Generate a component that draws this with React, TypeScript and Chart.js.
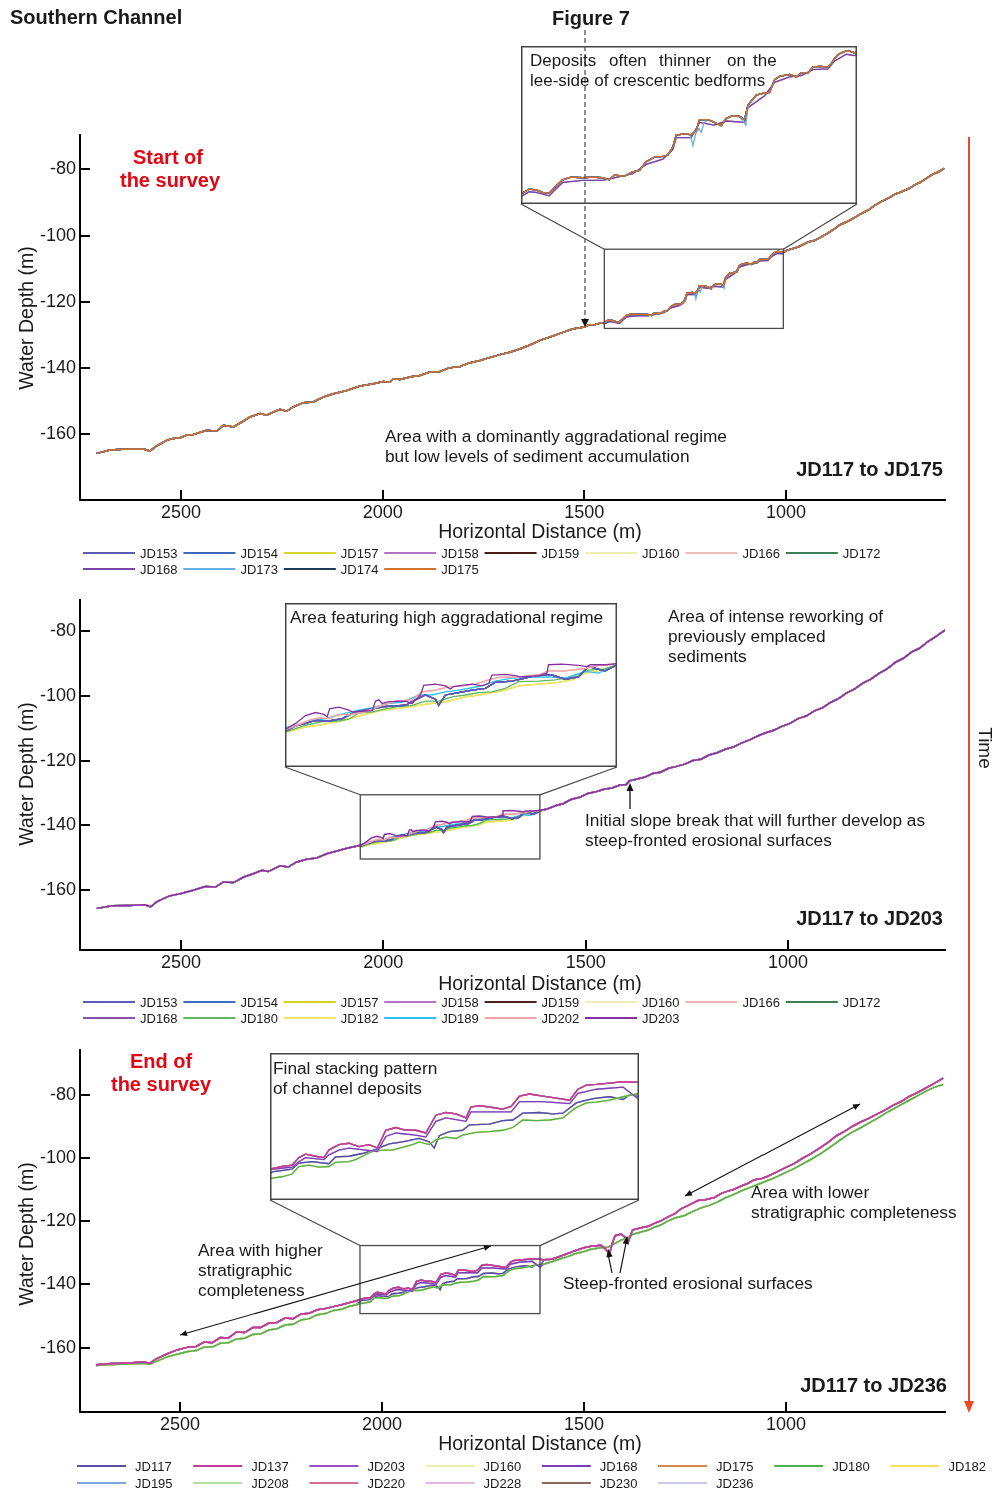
import React, { useEffect, useRef } from 'react';
import { Chart, registerables } from 'chart.js';

Chart.register(...registerables);

const FONT = '"Liberation Sans", Arial, Helvetica, sans-serif';

// ---------------- axis ticks ----------------
const X_TICKS = [2500, 2000, 1500, 1000];
const Y_TICKS = [-160, -140, -120, -100, -80];

// ---------------- Panel 1 (JD117 to JD175) ----------------
const P1_PROFILE = [
  [2709, -165.7], [2676, -164.7], [2635, -164.4], [2593, -164.4], [2577, -165.0], [2564, -163.7], [2535, -161.7],
  [2519, -161.2], [2502, -161.0], [2486, -160.2], [2469, -160.0], [2436, -158.7], [2411, -159.0], [2395, -157.2],
  [2370, -157.7], [2346, -156.0], [2329, -154.7], [2304, -153.7], [2288, -154.2], [2255, -152.4], [2238, -153.0],
  [2222, -151.7], [2197, -150.4], [2172, -150.2], [2147, -148.7], [2122, -147.7], [2089, -146.7], [2056, -145.4],
  [2023, -144.7], [1998, -144.0], [1982, -144.2], [1974, -143.2], [1957, -143.4], [1930, -142.6], [1908, -142.2],
  [1885, -141.2], [1858, -141.0], [1835, -139.9], [1808, -139.5], [1785, -138.4], [1759, -137.7], [1735, -136.8],
  [1709, -135.9], [1685, -135.2], [1660, -134.2], [1635, -133.0], [1610, -131.6], [1585, -130.6], [1560, -129.5],
  [1535, -128.4], [1523, -128.0], [1500, -127.6], [1488, -126.9], [1473, -126.8], [1460, -126.4],
  [1450.5, -126.2], [1439.5, -125.5], [1430.7, -125.6], [1421.9, -126.0], [1413.1, -126.1], [1406.5, -125.3],
  [1395.5, -124.1], [1384.4, -123.7], [1369.0, -123.8], [1355.8, -123.7], [1342.6, -123.8], [1333.7, -124.1],
  [1327.1, -123.4], [1320.5, -123.5], [1313.9, -123.6], [1302.9, -122.9], [1294.1, -122.7], [1285.2, -121.4],
  [1274.2, -120.7], [1263.2, -120.6], [1256.6, -120.4], [1250.0, -119.2], [1245.5, -117.4], [1232.3, -117.2],
  [1225.7, -117.4], [1219.1, -116.7], [1214.7, -115.1], [1203.7, -115.1], [1194.9, -115.5], [1186.0, -116.0],
  [1179.4, -114.9], [1170.7, -114.5], [1161.8, -114.6], [1155.2, -115.1], [1150.8, -112.9], [1139.7, -111.4],
  [1128.7, -111.1], [1122.1, -111.0], [1115.5, -109.1], [1108.9, -108.6], [1095.7, -108.3], [1086.8, -108.7],
  [1080.2, -108.1], [1071.5, -108.1], [1064.9, -107.2], [1056.0, -107.1], [1045.0, -107.2], [1040.5, -106.7],
  [1036.2, -105.9], [1029.6, -105.2], [1020.7, -104.8], [1014.1, -104.9], [1009.7, -105.1],
  [995, -104.3], [980, -103.8], [966, -103.2], [945, -101.9], [930, -101.5], [916, -100.6], [895, -99.2],
  [880, -98.0], [867, -96.8], [845, -95.6], [830, -94.6], [817, -93.6], [795, -92.2], [780, -90.9], [767, -90.0],
  [745, -88.6], [730, -87.5], [718, -87.0], [695, -85.8], [680, -84.6], [668, -84.0], [650, -82.6], [635, -81.4],
  [622, -80.8], [608, -79.7],
];
const P1_JD173_MID = [
  [1232.3, -117.2], [1226.5, -117.5], [1223.5, -119.0], [1219.5, -117.1], [1215.5, -116.4], [1212.5, -117.0],
  [1209.0, -115.6], [1203.7, -115.1], [1194.9, -115.5], [1186.0, -116.0], [1179.4, -114.9], [1170.7, -114.5],
  [1161.8, -114.7], [1157.0, -115.3], [1153.5, -115.9], [1150.8, -113.2],
];
// purple profiles (JD158, JD168) sit slightly below the others inside the zoom box
const P1_PURPLE_MID = [
  [1450.5, -126.6], [1439.5, -125.9], [1430.7, -126.0], [1413.1, -126.5], [1406.5, -125.7], [1395.5, -124.5],
  [1369.0, -124.2], [1342.6, -124.2], [1327.1, -123.8], [1302.9, -123.2], [1285.2, -121.8], [1263.2, -121.0],
  [1250.0, -119.6], [1245.5, -117.8], [1225.7, -117.8], [1214.7, -115.5], [1194.9, -115.9], [1179.4, -115.3],
  [1155.2, -115.5], [1150.8, -113.3], [1128.7, -111.5], [1115.5, -109.5], [1095.7, -108.7], [1080.2, -108.5],
  [1064.9, -107.6], [1045.0, -107.5], [1036.2, -106.3], [1020.7, -105.3], [1009.7, -105.5],
];
const P1_NAMES = ['JD153', 'JD154', 'JD157', 'JD158', 'JD159', 'JD160', 'JD166', 'JD172', 'JD168', 'JD173', 'JD174', 'JD175'];
const P1_COLORS: Record<string, string> = {
  JD153: '#5b5bb0', JD154: '#3b68b8', JD157: '#d6d62e', JD158: '#b473c4', JD159: '#4a1c1c', JD160: '#efefb4',
  JD166: '#ebbcbc', JD172: '#3d7f55', JD168: '#7c44a6', JD173: '#64aee6', JD174: '#1f3a55', JD175: '#d4742a',
};

// ---------------- Panel 2 (JD117 to JD203) ----------------
const P2_LOW = [
  [2708, -165.8], [2670, -165.0], [2630, -164.9], [2590, -164.7], [2575, -165.3], [2560, -163.8], [2530, -162.0],
  [2500, -161.2], [2470, -160.2], [2440, -159.0], [2415, -159.2], [2395, -157.6], [2370, -157.8], [2345, -156.1],
  [2320, -155.0], [2300, -154.0], [2285, -154.4], [2255, -152.6], [2235, -153.0], [2215, -151.5], [2190, -150.6],
  [2165, -150.2], [2140, -148.9], [2115, -148.0], [2090, -147.2], [2065, -146.5],
];
const P2_UP = [
  [1595, -135.0], [1575, -134.0], [1555, -133.3], [1535, -132.0], [1515, -131.4], [1495, -130.2], [1475, -129.7],
  [1455, -128.9], [1435, -128.5], [1415, -127.6], [1400, -127.4], [1392, -126.3], [1375, -125.8], [1355, -125.2],
  [1335, -124.0], [1315, -123.6], [1295, -122.4], [1275, -121.8], [1255, -121.1], [1235, -120.0], [1215, -119.6],
  [1195, -118.3], [1175, -117.6], [1155, -116.5], [1135, -115.8], [1115, -114.6], [1095, -113.6], [1075, -112.4],
  [1055, -111.4], [1035, -110.6], [1015, -109.4], [995, -108.5], [975, -107.0], [955, -106.2], [935, -104.6],
  [915, -103.7], [895, -102.0], [875, -100.8], [855, -99.0], [835, -97.8], [815, -96.0], [795, -94.8], [775, -93.0],
  [755, -91.6], [735, -89.6], [715, -88.3], [695, -86.4], [675, -85.2], [655, -83.2], [635, -81.6], [612, -79.6],
];
const P2_MID_PURPLE = [
  [2054, -146.1], [2042.8, -145.3], [2029.5, -144.0], [2016.1, -143.5], [2005.0, -143.8], [2000.5, -144.2],
  [1997.4, -142.9], [1985.0, -142.6], [1971.6, -143.1], [1967.1, -143.4], [1953.8, -143.3], [1940.4, -143.2],
  [1936.0, -141.6], [1931.5, -141.4], [1927.1, -142.0], [1918.2, -141.7], [1895.9, -141.6], [1887.0, -142.0],
  [1875.9, -140.6], [1871.4, -139.0], [1855.9, -138.8], [1842.5, -139.1], [1835.8, -139.6], [1831.4, -139.2],
  [1806.9, -138.8], [1793.5, -139.1], [1784.6, -138.7], [1780.2, -137.3], [1762.4, -137.2], [1749.0, -137.4],
  [1742.3, -137.6], [1717.8, -137.4], [1706.7, -137.0], [1704.5, -135.6], [1686.7, -135.5], [1664.4, -135.7],
  [1653.3, -135.9], [1648.8, -135.6], [1628.8, -135.6], [1611.0, -135.4],
];
const P2_MID_RED = [
  [2054, -146.2], [2042.8, -145.7], [2025.0, -144.8], [2011.7, -144.4], [1998.3, -144.5], [1985.0, -143.8],
  [1971.6, -143.9], [1949.3, -143.4], [1931.5, -142.5], [1909.3, -141.6], [1887.0, -141.4], [1873.7, -140.1],
  [1855.9, -139.8], [1842.5, -139.4], [1824.7, -139.1], [1802.4, -138.8], [1784.6, -138.1], [1771.3, -137.7],
  [1744.6, -137.6], [1717.8, -137.3], [1704.5, -136.6], [1682.2, -136.6], [1655.5, -136.2], [1637.7, -135.7],
  [1611.0, -135.5],
];
const P2_MID_BLUE = [
  [2054, -146.4], [2042.8, -145.7], [2029.5, -145.3], [2016.1, -144.8], [1998.3, -144.9], [1980.5, -144.5],
  [1962.7, -143.4], [1949.3, -143.1], [1936.0, -142.8], [1922.6, -142.5], [1909.3, -142.4], [1895.9, -142.3],
  [1882.6, -141.4], [1869.2, -140.6], [1855.9, -141.3], [1851.4, -142.3], [1842.5, -140.6], [1824.7, -140.2],
  [1806.9, -139.8], [1789.1, -139.5], [1775.7, -138.5], [1753.5, -138.3], [1735.6, -137.8], [1722.3, -137.4],
  [1700.0, -137.3], [1682.2, -138.0], [1664.4, -137.6], [1651.1, -135.9], [1633.3, -136.5], [1628.8, -136.6],
  [1611.0, -135.5],
];
const P2_MID_CYAN = [
  [2054, -145.9], [2038.4, -145.5], [2020.6, -144.9], [2002.8, -144.5], [1985.0, -143.9], [1958.2, -143.1],
  [1940.4, -142.7], [1918.2, -142.0], [1900.4, -141.8], [1878.1, -140.6], [1860.3, -140.6], [1842.5, -140.1],
  [1824.7, -139.8], [1798.0, -139.2], [1775.7, -138.3], [1753.5, -137.8], [1731.2, -137.7], [1704.5, -137.6],
  [1682.2, -137.8], [1655.5, -136.7], [1637.7, -137.0], [1611.0, -135.5],
];
const P2_MID_GREEN = [
  [2054, -146.6], [2029.5, -145.6], [2007.2, -145.0], [1985.0, -144.9], [1971.6, -144.6], [1958.2, -143.6],
  [1940.4, -143.4], [1922.6, -142.9], [1904.8, -142.5], [1887.0, -142.3], [1869.2, -141.6], [1851.4, -141.6],
  [1833.6, -140.9], [1815.8, -140.6], [1798.0, -140.2], [1780.2, -140.1], [1762.4, -139.5], [1744.6, -138.4],
  [1717.8, -138.3], [1695.6, -138.1], [1673.3, -137.6], [1651.1, -136.5], [1628.8, -136.3], [1611.0, -135.5],
];
const P2_MID_YELLOW = [
  [2054, -146.7], [2029.5, -145.9], [2007.2, -145.5], [1989.4, -145.1], [1967.1, -144.4], [1949.3, -143.8],
  [1927.1, -143.1], [1904.8, -142.8], [1882.6, -142.4], [1860.3, -142.0], [1838.1, -141.6], [1815.8, -140.9],
  [1798.0, -140.6], [1780.2, -140.2], [1762.4, -139.8], [1744.6, -139.1], [1717.8, -138.8], [1691.1, -138.5],
  [1673.3, -138.1], [1655.5, -137.0], [1633.3, -136.5], [1611.0, -135.5],
];
const P2_NAMES = ['JD153', 'JD154', 'JD157', 'JD158', 'JD159', 'JD160', 'JD166', 'JD172', 'JD168', 'JD180', 'JD182', 'JD189', 'JD202', 'JD203'];
const P2_COLORS: Record<string, string> = {
  JD153: '#5b5bb8', JD154: '#3c6cc4', JD157: '#d4d41e', JD158: '#b473c4', JD159: '#4a2222', JD160: '#efefb4',
  JD166: '#f0b4b4', JD172: '#3d7f55', JD168: '#8452aa', JD180: '#5cb85c', JD182: '#f2e66a', JD189: '#2ec0f0',
  JD202: '#f0a2a2', JD203: '#8531a3',
};
const P2_GROUP: Record<string, number[][]> = {
  JD153: P2_MID_BLUE, JD154: P2_MID_BLUE, JD157: P2_MID_YELLOW, JD158: P2_MID_BLUE, JD159: P2_MID_BLUE,
  JD160: P2_MID_YELLOW, JD166: P2_MID_RED, JD172: P2_MID_BLUE, JD168: P2_MID_BLUE, JD180: P2_MID_GREEN,
  JD182: P2_MID_YELLOW, JD189: P2_MID_CYAN, JD202: P2_MID_RED, JD203: P2_MID_PURPLE,
};
// drawn first to last (last ends up on top)
const P2_DRAW_ORDER = ['JD160', 'JD157', 'JD182', 'JD180', 'JD189', 'JD172', 'JD159', 'JD158', 'JD168', 'JD154', 'JD153', 'JD166', 'JD202', 'JD203'];

// ---------------- Panel 3 (JD117 to JD236) ----------------
const P3_LOW_TOP = [
  [2708, -165.4], [2670, -165.0], [2630, -164.8], [2590, -164.5], [2575, -164.9], [2560, -163.6], [2530, -161.8],
  [2505, -160.6], [2480, -159.8], [2460, -159.6], [2440, -158.2], [2420, -158.4], [2400, -156.8], [2380, -156.9],
  [2360, -155.0], [2340, -155.2], [2320, -153.6], [2300, -153.6], [2280, -152.2], [2260, -152.0], [2240, -150.6],
  [2220, -150.8], [2200, -149.3], [2180, -149.1], [2160, -148.0], [2140, -147.6], [2120, -147.0], [2100, -146.4],
  [2080, -145.7], [2065, -145.2],
];
const P3_LOW_LOW = [
  [2708, -165.6], [2670, -165.3], [2630, -165.1], [2590, -164.9], [2575, -165.2], [2560, -164.4], [2530, -162.8],
  [2505, -162.0], [2480, -161.2], [2460, -160.9], [2440, -159.8], [2420, -159.8], [2400, -158.6], [2380, -158.4],
  [2360, -157.2], [2340, -157.0], [2320, -155.8], [2300, -155.6], [2280, -154.4], [2260, -154.0], [2240, -152.8],
  [2220, -152.6], [2200, -151.2], [2180, -150.8], [2160, -149.6], [2140, -149.2], [2120, -148.2], [2100, -147.8],
  [2080, -146.9], [2065, -146.5],
];
const P3_MID_TOP = [
  [2052, -144.6], [2039.9, -144.3], [2027.8, -144.1], [2019.7, -143.0], [2011.6, -142.5], [1999.5, -142.8],
  [1989.4, -143.0], [1983.4, -141.9], [1971.3, -141.1], [1959.1, -140.9], [1947.0, -141.4], [1934.9, -141.1],
  [1924.8, -141.6], [1914.7, -139.0], [1902.6, -138.6], [1890.5, -139.0], [1878.4, -139.0], [1866.3, -139.4],
  [1854.2, -136.8], [1842.1, -136.4], [1830.0, -136.6], [1817.9, -137.2], [1811.8, -135.6], [1801.7, -135.4],
  [1789.6, -135.6], [1773.5, -135.9], [1763.3, -135.5], [1753.2, -134.0], [1741.1, -133.7], [1725.0, -134.0],
  [1708.8, -134.3], [1692.7, -134.6], [1682.6, -133.0], [1672.5, -132.4], [1660.4, -132.3], [1644.3, -132.1],
  [1628.1, -131.9], [1607.9, -132.0],
];
const P3_MID_UPPER = [
  [2052, -144.7], [2027.8, -144.4], [2019.7, -143.6], [2011.6, -143.0], [1989.4, -143.3], [1983.4, -142.6],
  [1971.3, -141.9], [1959.1, -141.6], [1924.8, -142.1], [1914.7, -139.9], [1902.6, -139.4], [1878.4, -139.7],
  [1866.3, -140.0], [1854.2, -137.7], [1842.1, -137.2], [1817.9, -137.7], [1811.8, -136.3], [1789.6, -136.3],
  [1763.3, -136.3], [1753.2, -134.8], [1725.0, -134.8], [1692.7, -135.1], [1682.6, -133.6], [1660.4, -133.0],
  [1628.1, -132.7], [1607.9, -134.6],
];
const P3_MID_BLUE = [
  [2052, -145.1], [2027.8, -144.7], [2019.7, -143.8], [2003.5, -143.6], [1983.4, -143.9], [1975.3, -142.9],
  [1959.1, -142.8], [1943.0, -142.4], [1926.8, -141.8], [1910.7, -141.0], [1894.5, -140.7], [1874.4, -140.2],
  [1862.2, -140.7], [1856.2, -141.6], [1850.1, -139.8], [1838.0, -139.2], [1821.9, -139.0], [1813.8, -138.2],
  [1789.6, -138.1], [1773.5, -137.6], [1761.3, -137.5], [1749.2, -136.5], [1729.0, -136.4], [1712.9, -136.6],
  [1700.8, -136.5], [1684.6, -135.0], [1672.5, -134.6], [1660.4, -134.3], [1644.3, -134.1], [1628.1, -134.5],
  [1620.0, -133.8], [1607.9, -134.1],
];
const P3_MID_LOW = [
  [2052, -146.0], [2039.9, -145.8], [2027.8, -145.4], [2019.7, -144.3], [2007.6, -144.1], [1995.5, -144.4],
  [1983.4, -144.3], [1975.3, -143.7], [1959.1, -143.6], [1951.1, -143.3], [1943.0, -142.8], [1930.9, -142.1],
  [1918.8, -141.9], [1906.7, -141.9], [1894.5, -141.5], [1882.4, -141.1], [1874.4, -140.7], [1862.2, -141.1],
  [1854.2, -140.4], [1842.1, -140.0], [1830.0, -140.2], [1821.9, -139.7], [1805.7, -139.3], [1789.6, -139.2],
  [1773.5, -139.0], [1761.3, -138.6], [1749.2, -137.5], [1733.1, -137.6], [1716.9, -137.5], [1700.8, -137.2],
  [1686.6, -135.8], [1672.5, -135.0], [1660.4, -134.9], [1644.3, -134.6], [1628.1, -134.1], [1607.9, -133.6],
];
const P3_UP_TOP = [
  [1600, -132.2], [1580, -132.0], [1557, -131.0], [1540, -130.2], [1524, -129.4], [1500, -128.4], [1483, -127.9],
  [1458, -127.6], [1446, -128.9], [1437, -130.4], [1430, -127.0], [1423, -124.6], [1408, -124.1], [1396, -125.3],
  [1390, -126.4], [1380, -122.8], [1359, -122.1], [1340, -121.6], [1326, -120.7], [1310, -119.9], [1293, -118.7],
  [1275, -117.6], [1260, -116.1], [1243, -115.1], [1218, -113.5], [1200, -113.2], [1177, -112.5], [1160, -111.2],
  [1144, -110.5], [1128, -109.9], [1111, -108.9], [1095, -108.1], [1078, -106.9], [1060, -106.5], [1045, -105.8],
  [1025, -104.6], [1000, -103.0], [980, -101.8], [960, -100.2], [940, -98.8], [913, -96.6], [895, -95.0],
  [875, -93.0], [855, -91.6], [835, -90.0], [814, -88.6], [795, -87.5], [775, -86.2], [755, -84.9], [735, -83.4],
  [715, -82.2], [695, -80.6], [675, -79.4], [655, -78.0], [635, -76.6], [611, -74.8],
];
const P3_UP_LOW = [
  [1600, -133.6], [1580, -132.8], [1557, -131.8], [1540, -131.2], [1524, -130.4], [1500, -129.6], [1483, -128.9],
  [1458, -128.4], [1440, -128.2], [1423, -127.0], [1408, -126.0], [1390, -125.2], [1380, -124.2], [1359, -123.4],
  [1340, -122.8], [1326, -121.9], [1310, -121.2], [1293, -120.0], [1275, -119.0], [1251, -118.2], [1230, -116.9],
  [1210, -115.8], [1190, -115.0], [1170, -114.0], [1150, -112.6], [1130, -111.6], [1110, -110.4], [1090, -109.4],
  [1070, -108.4], [1050, -107.4], [1030, -106.4], [1000, -104.6], [980, -103.4], [960, -102.0], [940, -100.6],
  [913, -98.6], [895, -97.0], [875, -95.2], [855, -93.4], [835, -91.8], [814, -90.4], [795, -89.0], [775, -87.6],
  [755, -86.0], [735, -84.6], [715, -83.2], [695, -81.8], [675, -80.4], [655, -79.0], [635, -77.8], [611, -76.8],
];
const P3_NAMES = ['JD117', 'JD137', 'JD203', 'JD160', 'JD168', 'JD175', 'JD180', 'JD182', 'JD195', 'JD208', 'JD220', 'JD228', 'JD230', 'JD236'];
const P3_COLORS: Record<string, string> = {
  JD117: '#5a4fa8', JD137: '#c23c9a', JD203: '#9b4fbf', JD160: '#eeeeaa', JD168: '#7b3fb5', JD175: '#d68a4e',
  JD180: '#4fb04f', JD182: '#f0e25a', JD195: '#7fa6dc', JD208: '#b5e0a5', JD220: '#d4708e', JD228: '#e2b9e2',
  JD230: '#8a6a5e', JD236: '#c9c9ec',
};
const P3_GROUP: Record<string, string> = {
  JD117: 'mid', JD137: 'top', JD203: 'top', JD160: 'low', JD168: 'upper', JD175: 'mid', JD180: 'low', JD182: 'low',
  JD195: 'mid', JD208: 'low', JD220: 'top', JD228: 'upper', JD230: 'top', JD236: 'upper',
};
const P3_DRAW_ORDER = ['JD175', 'JD195', 'JD117', 'JD208', 'JD160', 'JD182', 'JD180', 'JD236', 'JD228', 'JD168', 'JD230', 'JD203', 'JD220', 'JD137'];

// ---------------- helpers ----------------
type Pt = { x: number; y: number };
const toPts = (rows: number[][]): Pt[] => rows.map(([x, y]) => ({ x, y }));
const joinSegs = (...segs: number[][][]): Pt[] => toPts(segs.flat());
function spliceRows(base: number[][], mid: number[][]): number[][] {
  const hi = Math.max(...mid.map((r) => r[0]));
  const lo = Math.min(...mid.map((r) => r[0]));
  return [...base.filter((r) => r[0] > hi), ...mid, ...base.filter((r) => r[0] < lo)];
}

interface Series { name: string; color: string; data: Pt[] }
interface Spec {
  canvasTop: number; canvasH: number;
  plot: { l: number; r: number; t: number; b: number };
  xMin: number; xMax: number; yMin: number; yMax: number;
  box: { d0: number; d1: number; top: number; bot: number };
  inset: { l: number; t: number; w: number; h: number; yMin: number; yMax: number };
  series: Series[];
}

const P1_DRAW_ORDER = ['JD160', 'JD166', 'JD157', 'JD158', 'JD168', 'JD172', 'JD159', 'JD174', 'JD173', 'JD153', 'JD154', 'JD175'];
const P1_SERIES: Series[] = P1_DRAW_ORDER.map((n) => ({
  name: n, color: P1_COLORS[n],
  data: toPts(
    n === 'JD173' ? spliceRows(P1_PROFILE, P1_JD173_MID)
      : n === 'JD158' || n === 'JD168' ? spliceRows(P1_PROFILE, P1_PURPLE_MID)
        : P1_PROFILE,
  ),
}));
const P2_SERIES: Series[] = P2_DRAW_ORDER.map((n) => ({
  name: n, color: P2_COLORS[n], data: joinSegs(P2_LOW, P2_GROUP[n], P2_UP),
}));
const P3_SERIES: Series[] = P3_DRAW_ORDER.map((n) => {
  const g = P3_GROUP[n];
  const data =
    g === 'low' ? joinSegs(P3_LOW_LOW, P3_MID_LOW, P3_UP_LOW)
      : g === 'mid' ? joinSegs(P3_LOW_LOW, P3_MID_BLUE, P3_UP_LOW)
        : g === 'upper' ? joinSegs(P3_LOW_TOP, P3_MID_UPPER, P3_UP_TOP)
          : joinSegs(P3_LOW_TOP, P3_MID_TOP, P3_UP_TOP);
  return { name: n, color: P3_COLORS[n], data };
});

const SPEC1: Spec = {
  canvasTop: 0, canvasH: 585,
  plot: { l: 80, r: 945, t: 135, b: 500 },
  xMin: 605.8, xMax: 2750.4, yMin: -179.76, yMax: -69.65,
  box: { d0: 1450.5, d1: 1006.7, top: -104.1, bot: -128.0 },
  inset: { l: 521, t: 46, w: 336, h: 158, yMin: -127.73, yMax: -104.06 },
  series: P1_SERIES,
};
const SPEC2: Spec = {
  canvasTop: 585, canvasH: 450,
  plot: { l: 80, r: 945, t: 596, b: 950 },
  xMin: 612, xMax: 2749.6, yMin: -178.7, yMax: -70.19,
  box: { d0: 2057, d1: 1613, top: -130.6, bot: -150.5 },
  inset: { l: 285, t: 603, w: 332, h: 164, yMin: -152.5, yMax: -125.4 },
  series: P2_SERIES,
};
const SPEC3: Spec = {
  canvasTop: 1035, canvasH: 456,
  plot: { l: 80, r: 945, t: 1040, b: 1412 },
  xMin: 606.4, xMax: 2747.5, yMin: -180.3, yMax: -65.85,
  box: { d0: 2054.5, d1: 1608.9, top: -127.7, bot: -149.2 },
  inset: { l: 270, t: 1053, w: 369, h: 147, yMin: -149.2, yMax: -127.7 },
  series: P3_SERIES,
};

// Chart.js paints dataset 0 last (on top), so the list is reversed
function toDatasets(s: Spec, width: number) {
  return [...s.series].reverse().map((ser) => ({
    label: ser.name, data: ser.data.map((p) => ({ ...p })), borderColor: ser.color,
    borderWidth: width, pointRadius: 0, fill: false, tension: 0,
  }));
}

function mainConfig(s: Spec): any {
  const tickFont = { family: FONT, size: 18 };
  return {
    type: 'line',
    data: { datasets: toDatasets(s, 1.5) },
    options: {
      animation: false, responsive: false, devicePixelRatio: 1, events: [],
      layout: { padding: { top: s.plot.t - s.canvasTop, right: 995 - s.plot.r, left: 0, bottom: 0 } },
      plugins: { legend: { display: false }, tooltip: { enabled: false } },
      scales: {
        x: {
          type: 'linear', reverse: true, min: s.xMin, max: s.xMax,
          afterBuildTicks: (sc: any) => { sc.ticks = X_TICKS.map((v) => ({ value: v })); },
          afterFit: (sc: any) => { sc.height = s.canvasTop + s.canvasH - s.plot.b; },
          grid: { display: false, drawTicks: false },
          border: { display: true, color: '#000', width: 2 },
          ticks: { font: tickFont, color: '#1a1a1a', padding: 2, maxRotation: 0, autoSkip: false, callback: (v: any) => String(v) },
        },
        y: {
          type: 'linear', min: s.yMin, max: s.yMax,
          afterBuildTicks: (sc: any) => { sc.ticks = Y_TICKS.map((v) => ({ value: v })); },
          afterFit: (sc: any) => { sc.width = s.plot.l; },
          grid: { display: false, drawTicks: false },
          border: { display: true, color: '#000', width: 2 },
          ticks: { font: tickFont, color: '#1a1a1a', padding: 4, autoSkip: false, callback: (v: any) => String(v) },
        },
      },
    },
    plugins: [{
      id: 'mainDecor',
      afterDraw(chart: any) {
        const { ctx, chartArea: ca } = chart;
        const x = chart.scales.x;
        const y = chart.scales.y;
        ctx.save();
        ctx.strokeStyle = '#000';
        ctx.lineWidth = 2;
        ctx.beginPath();
        X_TICKS.forEach((v) => {
          const px = Math.round(x.getPixelForValue(v));
          ctx.moveTo(px, ca.bottom); ctx.lineTo(px, ca.bottom - 10);
        });
        Y_TICKS.forEach((v) => {
          const py = Math.round(y.getPixelForValue(v));
          ctx.moveTo(ca.left, py); ctx.lineTo(ca.left + 10, py);
        });
        ctx.stroke();
        const bx0 = x.getPixelForValue(s.box.d0);
        const bx1 = x.getPixelForValue(s.box.d1);
        const by0 = y.getPixelForValue(s.box.top);
        const by1 = y.getPixelForValue(s.box.bot);
        ctx.strokeStyle = '#4a4a4a';
        ctx.lineWidth = 1.3;
        ctx.strokeRect(bx0, by0, bx1 - bx0, by1 - by0);
        const it = s.inset.t + s.inset.h - s.canvasTop;
        ctx.beginPath();
        ctx.moveTo(s.inset.l, it); ctx.lineTo(bx0, by0);
        ctx.moveTo(s.inset.l + s.inset.w, it); ctx.lineTo(bx1, by0);
        ctx.stroke();
        ctx.restore();
      },
    }],
  };
}

function insetConfig(s: Spec): any {
  return {
    type: 'line',
    data: { datasets: toDatasets(s, 1.3) },
    options: {
      animation: false, responsive: false, devicePixelRatio: 1, events: [],
      layout: { padding: 0 },
      plugins: { legend: { display: false }, tooltip: { enabled: false } },
      scales: {
        x: { type: 'linear', reverse: true, min: s.box.d1, max: s.box.d0, display: false },
        y: { type: 'linear', min: s.inset.yMin, max: s.inset.yMax, display: false },
      },
    },
    plugins: [{
      id: 'insetFrame',
      beforeDraw(chart: any) {
        const { ctx, width, height } = chart;
        ctx.save(); ctx.fillStyle = '#fff'; ctx.fillRect(0, 0, width, height); ctx.restore();
      },
      afterDraw(chart: any) {
        const { ctx, width, height } = chart;
        ctx.save(); ctx.strokeStyle = '#444'; ctx.lineWidth = 1.5;
        ctx.strokeRect(0.75, 0.75, width - 1.5, height - 1.5); ctx.restore();
      },
    }],
  };
}

function ChartCanvas({ make, left, top, width, height }: { make: () => any; left: number; top: number; width: number; height: number }) {
  const ref = useRef<HTMLCanvasElement>(null);
  useEffect(() => {
    const chart = new Chart(ref.current as HTMLCanvasElement, make());
    return () => chart.destroy();
  }, []);
  return (
    <canvas ref={ref} width={width} height={height}
      style={{ position: 'absolute', left, top, width, height, display: 'block' }} />
  );
}

function T(props: { x: number; y: number; children: React.ReactNode; size?: number; weight?: string; anchor?: string; fill?: string; rotate?: number }) {
  const { x, y, children, size = 17.3, weight = 'normal', anchor = 'start', fill = '#1a1a1a', rotate } = props;
  return (
    <text x={x} y={y} fontFamily={FONT} fontSize={size} fontWeight={weight} textAnchor={anchor as any}
      dominantBaseline="central" fill={fill}
      transform={rotate !== undefined ? `rotate(${rotate} ${x} ${y})` : undefined}>{children}</text>
  );
}

function head(x1: number, y1: number, x2: number, y2: number, len = 8, half = 3.5, fill = '#111') {
  const a = Math.atan2(y2 - y1, x2 - x1);
  const bx = x2 - len * Math.cos(a);
  const by = y2 - len * Math.sin(a);
  const px = -Math.sin(a) * half;
  const py = Math.cos(a) * half;
  return <polygon points={`${x2},${y2} ${bx + px},${by + py} ${bx - px},${by - py}`} fill={fill} />;
}

function Legend({ names, colors, x0, dx, len, off, rows }: { names: string[]; colors: Record<string, string>; x0: number; dx: number; len: number; off: number; rows: number[] }) {
  return (
    <g>
      {names.map((n, i) => {
        const row = i < 8 ? 0 : 1;
        const col = i % 8;
        const lx = x0 + col * dx;
        const y = rows[row];
        return (
          <g key={n}>
            <line x1={lx} y1={y} x2={lx + len} y2={y} stroke={colors[n]} strokeWidth={2} />
            <T x={lx + off} y={y} size={13}>{n}</T>
          </g>
        );
      })}
    </g>
  );
}

export default function App() {
  const specs = [SPEC1, SPEC2, SPEC3];
  return (
    <div style={{ position: 'absolute', left: 0, top: 0, width: 995, height: 1491, background: '#fff', overflow: 'hidden' }}>
      {specs.map((s, i) => (
        <ChartCanvas key={'m' + i} make={() => mainConfig(s)} left={0} top={s.canvasTop} width={995} height={s.canvasH} />
      ))}
      {specs.map((s, i) => (
        <ChartCanvas key={'i' + i} make={() => insetConfig(s)} left={s.inset.l} top={s.inset.t} width={s.inset.w} height={s.inset.h} />
      ))}
      <svg width={995} height={1491} style={{ position: 'absolute', left: 0, top: 0, pointerEvents: 'none' }}>
        {/* titles */}
        <T x={10} y={17} size={20} weight="bold">Southern Channel</T>
        <T x={591} y={18} size={20} weight="bold" anchor="middle">Figure 7</T>

        {/* Panel 1 */}
        <T x={168} y={157} size={20} weight="bold" anchor="middle" fill="#e30613">Start of</T>
        <T x={170} y={180} size={20} weight="bold" anchor="middle" fill="#e30613">the survey</T>
        <line x1={585} y1={30} x2={585} y2={319} stroke="#555" strokeWidth={1.3} strokeDasharray="5,3" />
        {head(585, 300, 585, 327, 8, 4)}
        <T x={530} y={60} size={17}>Deposits</T>
        <T x={609} y={60} size={17}>often</T>
        <T x={659} y={60} size={17}>thinner</T>
        <T x={727} y={60} size={17}>on</T>
        <T x={753} y={60} size={17}>the</T>
        <T x={530} y={80} size={17}>lee-side of crescentic bedforms</T>
        <T x={385} y={436} size={17.3}>Area with a dominantly aggradational regime</T>
        <T x={385} y={456} size={17.3}>but low levels of sediment accumulation</T>
        <T x={943} y={469} size={20} weight="bold" anchor="end">JD117 to JD175</T>
        <T x={540} y={531} size={19.5} anchor="middle">Horizontal Distance (m)</T>
        <T x={26} y={318} size={19.5} anchor="middle" rotate={-90}>Water Depth (m)</T>
        <Legend names={P1_NAMES} colors={P1_COLORS} x0={83} dx={100.4} len={52} off={57} rows={[553, 569]} />

        {/* Panel 2 */}
        <T x={290} y={617} size={17.3}>Area featuring high aggradational regime</T>
        <T x={668} y={616} size={17.3}>Area of intense reworking of</T>
        <T x={668} y={636} size={17.3}>previously emplaced</T>
        <T x={668} y={656} size={17.3}>sediments</T>
        <T x={585} y={820} size={17.3}>Initial slope break that will further develop as</T>
        <T x={585} y={840} size={17.3}>steep-fronted erosional surfaces</T>
        <line x1={630} y1={809} x2={630} y2={790} stroke="#111" strokeWidth={1.3} />
        {head(630, 809, 630, 783, 8, 3.5)}
        <T x={943} y={918} size={20} weight="bold" anchor="end">JD117 to JD203</T>
        <T x={540} y={983} size={19.5} anchor="middle">Horizontal Distance (m)</T>
        <T x={26} y={774} size={19.5} anchor="middle" rotate={-90}>Water Depth (m)</T>
        <Legend names={P2_NAMES} colors={P2_COLORS} x0={83} dx={100.4} len={52} off={57} rows={[1002, 1018]} />

        {/* Panel 3 */}
        <T x={161} y={1061} size={20} weight="bold" anchor="middle" fill="#e30613">End of</T>
        <T x={161} y={1084} size={20} weight="bold" anchor="middle" fill="#e30613">the survey</T>
        <T x={273} y={1068} size={17.3}>Final stacking pattern</T>
        <T x={273} y={1088} size={17.3}>of channel deposits</T>
        <T x={198} y={1250} size={17.3}>Area with higher</T>
        <T x={198} y={1270} size={17.3}>stratigraphic</T>
        <T x={198} y={1290} size={17.3}>completeness</T>
        <line x1={180} y1={1335} x2={491} y2={1246} stroke="#111" strokeWidth={1.1} />
        {head(491, 1246, 180, 1335, 7, 3)}
        {head(180, 1335, 491, 1246, 7, 3)}
        <T x={751} y={1192} size={17.3}>Area with lower</T>
        <T x={751} y={1212} size={17.3}>stratigraphic completeness</T>
        <line x1={685} y1={1196} x2={860} y2={1104} stroke="#111" strokeWidth={1.1} />
        {head(860, 1104, 685, 1196, 7, 3)}
        {head(685, 1196, 860, 1104, 7, 3)}
        <T x={563} y={1283} size={17.3}>Steep-fronted erosional surfaces</T>
        <line x1={612} y1={1273} x2={608.5} y2={1256} stroke="#111" strokeWidth={1.2} />
        {head(612, 1273, 608.3, 1249, 8, 3.2)}
        <line x1={620} y1={1273} x2={626} y2={1243} stroke="#111" strokeWidth={1.2} />
        {head(620, 1273, 627.3, 1236, 8, 3.2)}
        <T x={947} y={1385} size={20} weight="bold" anchor="end">JD117 to JD236</T>
        <T x={540} y={1443} size={19.5} anchor="middle">Horizontal Distance (m)</T>
        <T x={26} y={1234} size={19.5} anchor="middle" rotate={-90}>Water Depth (m)</T>
        <Legend names={P3_NAMES} colors={P3_COLORS} x0={77} dx={116.2} len={49} off={58} rows={[1466, 1483]} />

        {/* Time arrow */}
        <line x1={969} y1={137} x2={969} y2={1402} stroke="#e84a25" strokeWidth={2} />
        {head(969, 1300, 969, 1413, 12, 5, '#e84a25')}
        <T x={985} y={748} size={19} anchor="middle" rotate={90}>Time</T>
      </svg>
    </div>
  );
}
